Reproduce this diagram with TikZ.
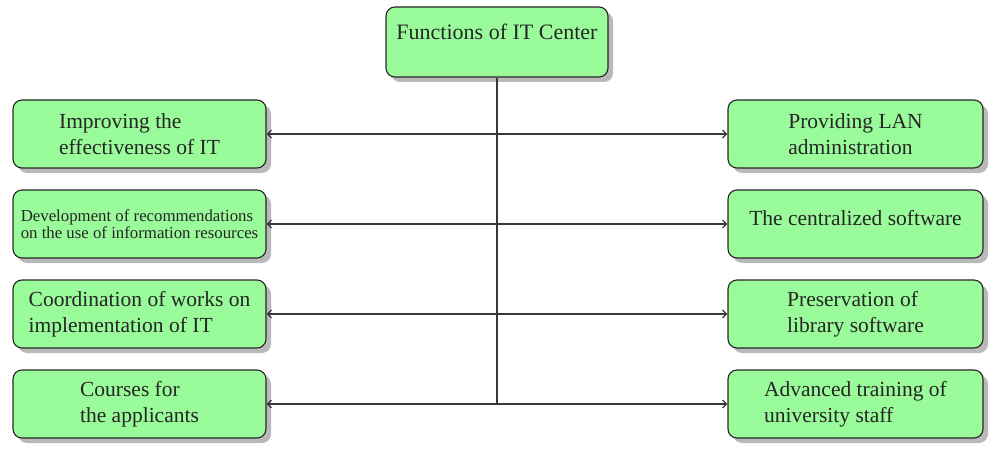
\documentclass[tikz,border=0pt]{standalone}
\usepackage{fontspec}
\setmainfont{Liberation Serif}
\usepackage{tikz}
\usetikzlibrary{shadows,arrows.meta}

\definecolor{boxgreen}{HTML}{99FB99}
\definecolor{linegray}{HTML}{383838}

\tikzset{
    funcbox/.style={draw=black!85, line width=1.1pt, fill=boxgreen, rounded corners=9pt,
        align=left, inner sep=4pt, text=black!85,
        font=\fontsize{21.5}{26}\selectfont,
        drop shadow={shadow xshift=5pt, shadow yshift=-5pt, fill=black!50, opacity=0.55}},
    leftbox/.style={funcbox, minimum width=253pt, minimum height=68pt},
    rightbox/.style={funcbox, minimum width=255pt, minimum height=68pt},
    link/.style={draw=linegray, line width=1.3pt},
    linkarrow/.style={link, -{Straight Barb[length=4pt, width=8pt]}}
}

\begin{document}
\begin{tikzpicture}[x=1pt, y=-1pt]
    % Fix the page size
    \useasboundingbox (0,0) rectangle (997,460);

    % Draw the top box
    \node[funcbox, minimum width=222pt, minimum height=70pt, font=\fontsize{22}{26}\selectfont,
        text height=15pt, text depth=19pt] (center) at (497,42) {Functions of IT Center};

    % Draw the boxes on the left
    \node[leftbox] (impr) at (139.5,134) {Improving the\\effectiveness of IT};
    \node[leftbox, font=\fontsize{16.8}{17.5}\selectfont] (recom) at (139.5,224)
        {Development of recommendations\\on the use of information resources};
    \node[leftbox] (coord) at (139.5,314) {Coordination of works on\\implementation of IT};
    \node[leftbox] (course) at (139.5,404) {Courses for\\the applicants};

    % Draw the boxes on the right
    \node[rightbox] (lan) at (855.5,134) {Providing LAN\\administration};
    \node[rightbox, text height=15pt, text depth=13pt] (soft) at (855.5,224) {The centralized software};
    \node[rightbox] (libr) at (855.5,314) {Preservation of\\library software};
    \node[rightbox] (train) at (855.5,404) {Advanced training of\\university staff};

    % Points on the trunk line
    \coordinate (j1) at (497,134);
    \coordinate (j2) at (497,224);
    \coordinate (j3) at (497,314);
    \coordinate (j4) at (497,404);

    % Draw the trunk line
    \draw[link] (center.south) -- (j4);

    % Draw the arrows
    \draw[linkarrow] (j1) -- (impr.east);
    \draw[linkarrow] (j2) -- (recom.east);
    \draw[linkarrow] (j3) -- (coord.east);
    \draw[linkarrow] (j4) -- (course.east);
    \draw[linkarrow] (j1) -- (lan.west);
    \draw[linkarrow] (j2) -- (soft.west);
    \draw[linkarrow] (j3) -- (libr.west);
    \draw[linkarrow] (j4) -- (train.west);

\end{tikzpicture}
\end{document}
